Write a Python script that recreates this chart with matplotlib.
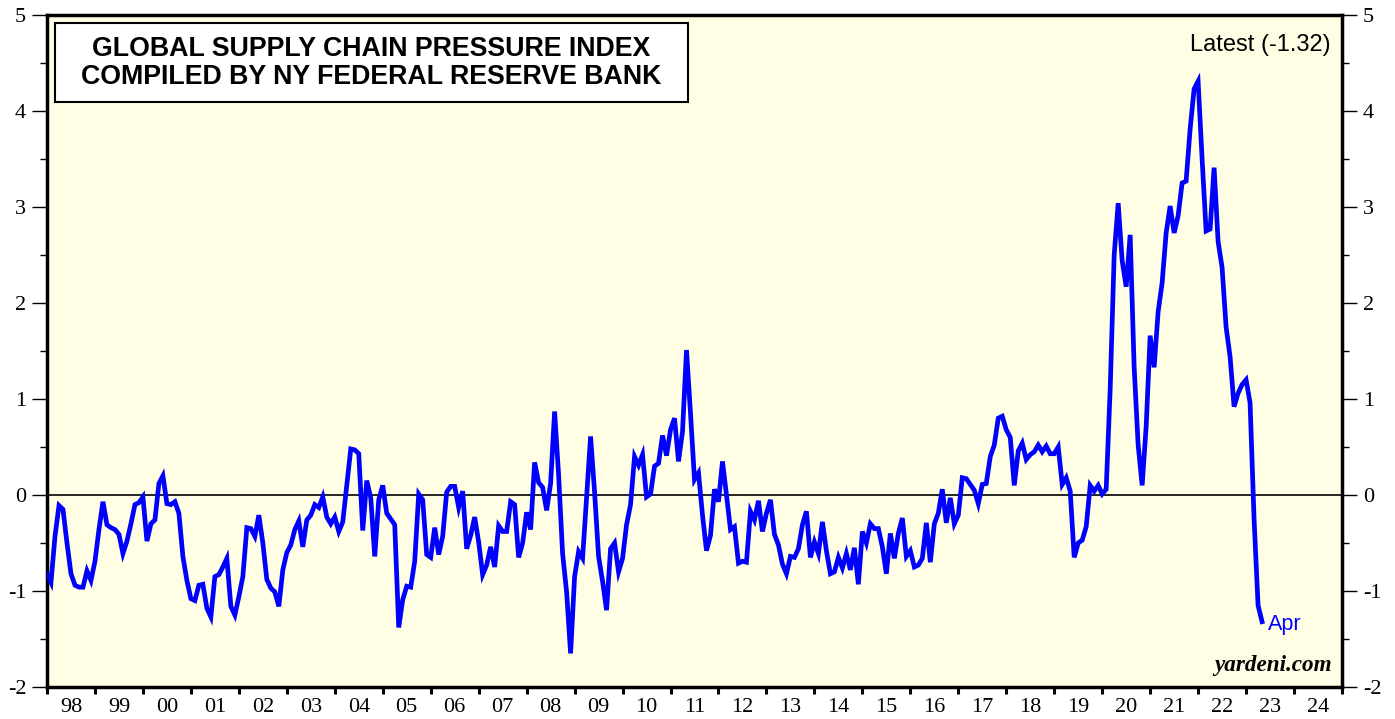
import numpy as np
import pandas as pd
import matplotlib
matplotlib.use('Agg')
import matplotlib.pyplot as plt
from matplotlib.ticker import MultipleLocator, FixedLocator, FixedFormatter
from matplotlib.patches import Rectangle

plt.rcParams['axes.unicode_minus'] = False

# GSCPI monthly readings (std. deviations from average), Dec 1997 - Apr 2023
gscpi_1998_2002 = [-0.82, -0.91, -0.43, -0.11, -0.15, -0.50, -0.82, -0.94, -0.96, -0.96, -0.79, -0.89,
                   -0.69, -0.36, -0.07, -0.31, -0.34, -0.36, -0.41, -0.61, -0.48, -0.30, -0.10, -0.08,
                   -0.02, -0.48, -0.30, -0.26, 0.12, 0.20, -0.09, -0.10, -0.07, -0.19, -0.64, -0.89,
                   -1.08, -1.10, -0.94, -0.93, -1.18, -1.27, -0.85, -0.83, -0.75, -0.66, -1.16, -1.25,
                   -1.06, -0.85, -0.34, -0.35, -0.43, -0.21, -0.50, -0.88, -0.97, -1.01, -1.16, -0.78]
gscpi_2003_2007 = [-0.60, -0.52, -0.36, -0.27, -0.54, -0.26, -0.21, -0.10, -0.13, -0.02, -0.23, -0.30,
                   -0.23, -0.38, -0.28, 0.10, 0.48, 0.47, 0.43, -0.37, 0.15, -0.03, -0.64, -0.05,
                   0.10, -0.19, -0.25, -0.31, -1.38, -1.09, -0.95, -0.96, -0.69, 0.01, -0.05, -0.62,
                   -0.65, -0.34, -0.62, -0.43, 0.03, 0.09, 0.09, -0.13, 0.04, -0.56, -0.42, -0.23,
                   -0.49, -0.83, -0.73, -0.54, -0.75, -0.32, -0.38, -0.38, -0.07, -0.10, -0.65, -0.50]
gscpi_2008_2012 = [-0.18, -0.36, 0.34, 0.13, 0.08, -0.16, 0.12, 0.87, 0.21, -0.61, -1.01, -1.65,
                   -0.85, -0.59, -0.66, -0.03, 0.61, 0.03, -0.64, -0.90, -1.20, -0.56, -0.50, -0.80,
                   -0.66, -0.31, -0.10, 0.40, 0.31, 0.42, -0.02, 0.01, 0.30, 0.33, 0.62, 0.41,
                   0.68, 0.80, 0.35, 0.66, 1.51, 0.85, 0.16, 0.23, -0.21, -0.58, -0.42, 0.06,
                   -0.07, 0.35, 0.00, -0.36, -0.33, -0.71, -0.69, -0.70, -0.17, -0.26, -0.06, -0.38]
gscpi_2013_2017 = [-0.19, -0.05, -0.41, -0.52, -0.72, -0.82, -0.64, -0.65, -0.56, -0.31, -0.17, -0.65,
                   -0.49, -0.61, -0.28, -0.58, -0.82, -0.80, -0.65, -0.76, -0.61, -0.78, -0.55, -0.93,
                   -0.38, -0.50, -0.30, -0.35, -0.35, -0.54, -0.82, -0.40, -0.66, -0.40, -0.24, -0.64,
                   -0.58, -0.75, -0.73, -0.66, -0.29, -0.70, -0.30, -0.19, 0.06, -0.29, -0.03, -0.30,
                   -0.21, 0.18, 0.17, 0.11, 0.05, -0.09, 0.11, 0.12, 0.40, 0.52, 0.80, 0.82]
gscpi_2018_2023 = [0.68, 0.60, 0.10, 0.46, 0.54, 0.37, 0.42, 0.45, 0.52, 0.45, 0.51, 0.43,
                   0.43, 0.50, 0.11, 0.18, 0.04, -0.65, -0.50, -0.47, -0.33, 0.10, 0.04, 0.10,
                   0.01, 0.06, 1.10, 2.50, 3.04, 2.44, 2.17, 2.71, 1.33, 0.52, 0.10, 0.71,
                   1.66, 1.33, 1.91, 2.21, 2.73, 3.01, 2.73, 2.91, 3.25, 3.27, 3.81, 4.23,
                   4.31, 3.50, 2.75, 2.77, 3.41, 2.64, 2.37, 1.75, 1.44, 0.92, 1.06, 1.15,
                   1.20, 0.96, -0.25, -1.15, -1.32]

gscpi = gscpi_1998_2002 + gscpi_2003_2007 + gscpi_2008_2012 + gscpi_2013_2017 + gscpi_2018_2023
dates = pd.date_range('1997-12-31', periods=len(gscpi), freq='ME')

year_labels = ['%02d' % (y % 100) for y in range(1998, 2025)]
y_ticks = [-2, -1, 0, 1, 2, 3, 4, 5]

title_lines = ['GLOBAL SUPPLY CHAIN PRESSURE INDEX', 'COMPILED BY NY FEDERAL RESERVE BANK']
latest_label = 'Latest (%.2f)' % gscpi[-1]


def to_decimal_year(ts):
    '''Month-end dates plotted at the end of the month.'''
    return ts.year + ts.month / 12.0


def make_chart(path):
    fig = plt.figure(figsize=(13.95, 7.19), dpi=100)
    ax = fig.add_axes([47 / 1395, 1 - 687 / 719, 1295 / 1395, 672 / 719])
    ax.set_facecolor('#FFFEE4')

    x = np.array([to_decimal_year(d) for d in dates])
    ax.axhline(0, color='black', lw=1.2, zorder=1)
    ax.plot(x, gscpi, color='#0000FF', lw=3.4, solid_joinstyle='miter', zorder=3)

    ax.set_xlim(1998, 2025)
    ax.set_ylim(-2, 5)

    # y axis on both sides
    ax.yaxis.set_major_locator(FixedLocator(y_ticks))
    ax.yaxis.set_minor_locator(MultipleLocator(0.5))
    ax.tick_params(axis='y', which='major', direction='out', length=11, width=1.0,
                   left=True, right=True, labelleft=True, labelright=True,
                   labelsize=16, pad=4)
    ax.tick_params(axis='y', which='minor', direction='out', length=5, width=1.0,
                   left=True, right=True)

    # year ticks at boundaries, labels centred in the year
    ax.xaxis.set_major_locator(FixedLocator(range(1998, 2026)))
    ax.xaxis.set_major_formatter(FixedFormatter([''] * 28))
    ax.xaxis.set_minor_locator(FixedLocator([y + 0.5 for y in range(1998, 2025)]))
    ax.xaxis.set_minor_formatter(FixedFormatter(year_labels))
    ax.tick_params(axis='x', which='major', direction='out', length=5, width=2.2)
    ax.tick_params(axis='x', which='minor', length=0, labelsize=16, pad=8)

    for lab in ax.get_xticklabels(minor=True):
        lab.set_fontfamily('Liberation Serif')
    for t in ax.yaxis.get_major_ticks():
        t.label1.set_fontfamily('Liberation Serif')
        t.label2.set_fontfamily('Liberation Serif')

    for side in ['left', 'right', 'top', 'bottom']:
        ax.spines[side].set_linewidth(2.5)
        ax.spines[side].set_color('black')

    # title box
    ax.add_patch(Rectangle((0.0064, 0.8705), 0.4887, 0.1175, transform=ax.transAxes,
                           facecolor='white', edgecolor='black', lw=1.5, zorder=4))
    ax.text(0.2505, 0.950, title_lines[0], transform=ax.transAxes, ha='center', va='center',
            fontsize=19.3, fontweight='bold', family='Liberation Sans', zorder=5)
    ax.text(0.2505, 0.907, title_lines[1], transform=ax.transAxes, ha='center', va='center',
            fontsize=19.3, fontweight='bold', family='Liberation Sans', zorder=5)

    ax.text(0.9915, 0.955, latest_label, transform=ax.transAxes, ha='right', va='center',
            fontsize=17, family='Liberation Sans')
    ax.text(x[-1] + 0.12, gscpi[-1] - 0.03, 'Apr', color='#0000FF', ha='left', va='center',
            fontsize=15.5, family='Liberation Sans')
    ax.text(0.9923, 0.016, 'yardeni.com', transform=ax.transAxes, ha='right', va='bottom',
            fontsize=16.7, fontweight='bold', fontstyle='italic', family='Liberation Serif')

    fig.savefig(path, dpi=100, facecolor='white')
    plt.close(fig)


if __name__ == '__main__':
    make_chart('out.png')
